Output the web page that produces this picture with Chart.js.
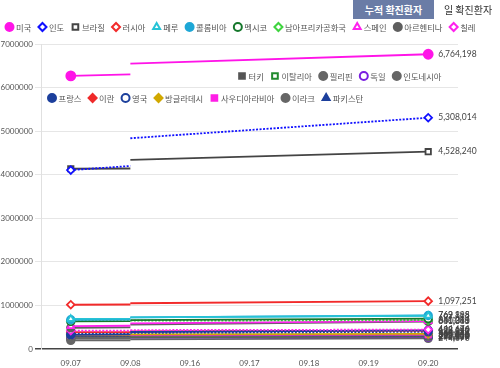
<!DOCTYPE html>
<html>
<head>
<meta charset="utf-8">
<script src="https://cdn.jsdelivr.net/npm/chart.js@4.4.0/dist/chart.umd.min.js"></script>
<style>
  body { margin: 0; background: #fff; font-family: "Noto Sans CJK KR", sans-serif; }
  #wrap { position: relative; width: 500px; height: 368px; overflow: hidden; }
  .tab { position: absolute; top: 0; height: 19px; line-height: 19px; font-size: 10px; text-align: center; }
  .tab.on { left: 353px; width: 81px; background: #6a7ca6; color: #fff; font-weight: bold; }
  .tab.off { left: 436px; width: 64px; color: #333; }
</style>
</head>
<body>
<div id="wrap">
  <canvas id="chart" width="500" height="368"></canvas>
  <div class="tab on">누적 확진환자</div>
  <div class="tab off">일 확진환자</div>
</div>
<script>
const dates = ['09.07', '09.08', '09.16', '09.17', '09.18', '09.19', '09.20'];

const countries = ['미국', '인도', '브라질', '러시아', '페루', '콜롬비아', '멕시코', '남아프리카공화국',
  '스페인', '아르헨티나', '칠레', '프랑스', '이란', '영국', '방글라데시', '사우디아라비아', '이라크',
  '파키스탄', '터키', '이탈리아', '필리핀', '독일', '인도네시아'];

// 09.07
const startVals = [6268000, 4106000, 4137000, 1016000, 691000, 671000, 634000, 639000,
  525000, 488000, 422000, 324000, 388000, 347000, 325000, 321000, 260000,
  299000, 281000, 278000, 237000, 253000, 197000];
// 09.08 (end of first run)
const earlyVals = [6304000, 4201000, 4143000, 1021000, 696000, 676000, 638000, 640000,
  534000, 498000, 424000, 335000, 390000, 350000, 327000, 322000, 264000,
  299500, 283000, 279000, 241000, 254000, 200000];
// 09.08 (start of second run)
const resumeVals = [6548000, 4837000, 4341000, 1050000, 725000, 725000, 665000, 650000,
  590000, 560000, 434000, 390000, 406000, 370000, 337000, 326000, 290000,
  302000, 291000, 288000, 262000, 263000, 221000];
// 09.20
const endVals = [6764198, 5308014, 4528240, 1097251, 762865, 769198, 697663, 661211,
  640040, 631365, 444674, 428696, 422140, 394257, 347372, 330246, 316000,
  305031, 299810, 298156, 283460, 272337, 244676];

const colors = ['#ff14e8', '#1010ff', '#444444', '#f22a2a', '#27c3d6', '#1ea7d6', '#15772b', '#3fd43f',
  '#ff22ee', '#5f5f5f', '#ff22ee', '#1c3f9c', '#ef2a2a', '#1c3f9c', '#d1a800', '#ff1ee6', '#666666',
  '#1c3f9c', '#555555', '#218a2e', '#666666', '#7a1ee0', '#666666'];
const shapes = ['circle', 'rectRot', 'rect', 'rectRot', 'triangle', 'circle', 'circle', 'rectRot',
  'triangle', 'circle', 'rectRot', 'circle', 'rectRot', 'circle', 'rectRot', 'rect', 'circle',
  'triangle', 'rect', 'rect', 'circle', 'circle', 'circle'];
const filled = [1, 0, 0, 0, 0, 1, 0, 0, 0, 1, 0, 1, 1, 0, 1, 1, 1, 1, 1, 0, 1, 0, 1];
const dotted = [0, 1, 0, 0, 0, 0, 0, 1, 0, 0, 1, 0, 0, 1, 0, 0, 0, 1, 0, 0, 0, 0, 0];

const datasets = countries.map((name, i) => ({
  label: name,
  data: [
    { x: dates[0], y: startVals[i] },
    { x: dates[1], y: earlyVals[i] },
    { x: dates[1], y: null },
    { x: dates[1], y: resumeVals[i] },
    { x: dates[6], y: endVals[i] },
  ],
  borderColor: colors[i],
  backgroundColor: colors[i],
  pointBorderColor: colors[i],
  pointBackgroundColor: filled[i] ? colors[i] : '#fff',
  pointStyle: shapes[i],
  pointBorderWidth: 1.8,
  pointRadius: c => (c.dataIndex === 0 || c.dataIndex === 4) ? (i === 0 ? 4.5 : 3.8) : 0,
  borderWidth: 1.8,
  borderDash: dotted[i] ? [2, 1.5] : [],
  spanGaps: false,
  tension: 0,
}));

// legend rows as they sit on the picture
const legendRows = [
  { x: 9.5, y: 27, items: [0, 1, 2, 3, 4, 5, 6, 7, 8, 9, 10] },
  { x: 242, y: 76, items: [18, 19, 20, 21, 22] },
  { x: 52, y: 98, items: [11, 12, 13, 14, 15, 16, 17] },
];

const legendPlugin = {
  id: 'rowLegend',
  afterDraw(chart) {
    const ctx = chart.ctx;
    ctx.save();
    ctx.font = '8.3px "Noto Sans CJK KR"';
    ctx.textBaseline = 'middle';
    legendRows.forEach(row => {
      let x = row.x;
      row.items.forEach(i => {
        const ds = chart.data.datasets[i];
        ctx.strokeStyle = colors[i];
        ctx.fillStyle = filled[i] ? colors[i] : '#fff';
        ctx.lineWidth = 2;
        ctx.setLineDash([]);
        Chart.helpers.drawPoint(ctx, { pointStyle: ds.pointStyle, radius: 4, borderWidth: 2, rotation: 0 }, x, row.y);
        ctx.fillStyle = '#555';
        ctx.fillText(ds.label, x + 6.5, row.y + 0.5);
        x += 6.5 + ctx.measureText(ds.label).width + 11.2;
      });
    });
    ctx.restore();
  }
};

const endLabelPlugin = {
  id: 'endLabels',
  afterDatasetsDraw(chart) {
    const ctx = chart.ctx;
    ctx.save();
    ctx.font = '8.5px Lato';
    ctx.fillStyle = '#444';
    ctx.textBaseline = 'middle';
    chart.data.datasets.forEach((ds, i) => {
      const pts = chart.getDatasetMeta(i).data;
      const p = pts[pts.length - 1];
      ctx.fillText(endVals[i].toLocaleString('en-US'), p.x + 10, p.y);
    });
    ctx.restore();
  }
};

new Chart(document.getElementById('chart'), {
  type: 'line',
  data: { labels: dates, datasets },
  options: {
    responsive: false,
    animation: false,
    layout: { padding: { top: 44, right: 42, left: 0, bottom: 0 } },
    plugins: { legend: { display: false }, tooltip: { enabled: false } },
    scales: {
      x: {
        offset: true,
        grid: { display: false },
        border: { display: false },
        ticks: { color: '#555', font: { family: 'Lato', size: 8 }, padding: 2, maxRotation: 0 },
        afterFit: s => { s.height = 19; },
      },
      y: {
        min: 0,
        max: 7000000,
        ticks: {
          stepSize: 1000000, color: '#555', font: { family: 'Lato', size: 8 }, padding: 2,
          callback: v => String(v),
        },
        grid: {
          color: c => (c.tick && c.tick.value === 0) ? '#444' : '#e6e6e6',
          lineWidth: c => (c.tick && c.tick.value === 0) ? 1.5 : 1,
          tickLength: 6,
        },
        border: { color: '#e0e0e0' },
        afterFit: s => { s.width = 41; },
      },
    },
  },
  plugins: [endLabelPlugin, legendPlugin],
});
</script>
</body>
</html>
